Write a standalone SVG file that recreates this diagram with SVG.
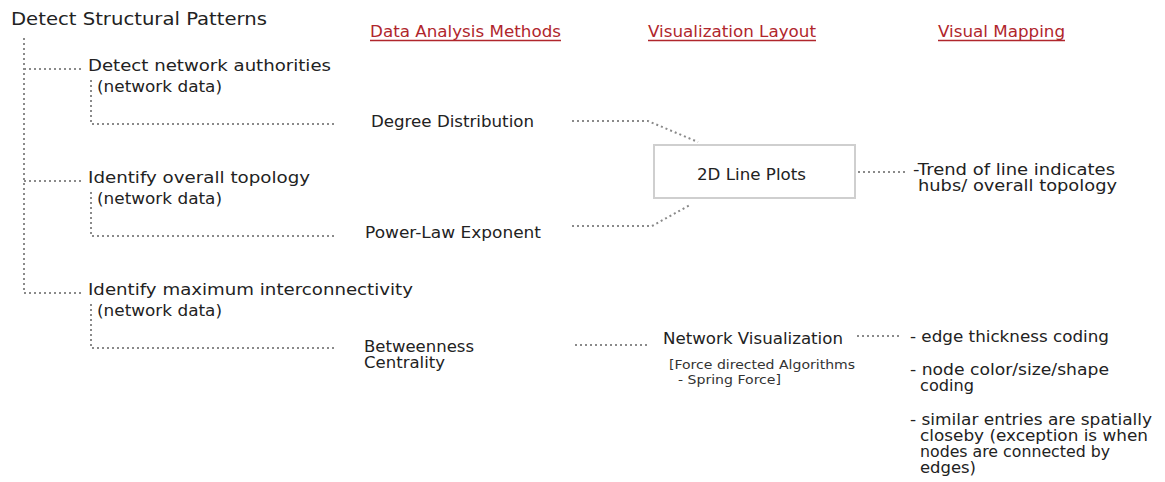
<svg xmlns="http://www.w3.org/2000/svg" width="1165" height="482" viewBox="0 0 1165 482">
  <style>
    text { font-family: "DejaVu Sans", Verdana, sans-serif; fill: #222; }
    .title { font-size: 17.5px; }
    .task { font-size: 16.5px; }
    .data { font-size: 15px; }
    .method { font-size: 15.5px; }
    .head { font-size: 15.5px; fill: #b0262c; }
    .note { font-size: 13px; fill: #333; }
    .map { font-size: 15.5px; }
    .dot { fill: none; stroke: #8a8a8a; stroke-width: 2; stroke-dasharray: 2 3; }
    .box { fill: #fff; stroke: #cfcfcf; stroke-width: 2; }
    .uline { stroke: #b0262c; stroke-width: 1.3; }
  </style>

  <!-- column headings -->
  <g id="headings">
    <text class="head" x="370" y="37" textLength="191" lengthAdjust="spacingAndGlyphs">Data Analysis Methods</text>
    <line class="uline" x1="370" y1="40.5" x2="561" y2="40.5"/>
    <text class="head" x="648" y="37" textLength="168" lengthAdjust="spacingAndGlyphs">Visualization Layout</text>
    <line class="uline" x1="648" y1="40.5" x2="816" y2="40.5"/>
    <text class="head" x="938" y="37" textLength="127" lengthAdjust="spacingAndGlyphs">Visual Mapping</text>
    <line class="uline" x1="938" y1="40.5" x2="1065" y2="40.5"/>
  </g>

  <!-- dotted connectors -->
  <g id="connectors">
    <path class="dot" d="M24 38 V293"/>
    <path class="dot" d="M24 69 H84"/>
    <path class="dot" d="M24 181 H84"/>
    <path class="dot" d="M24 293 H84"/>
    <path class="dot" d="M91 80 V124 H337"/>
    <path class="dot" d="M91 192 V236 H337"/>
    <path class="dot" d="M91 304 V348 H337"/>
    <path class="dot" d="M572 121 H648 L698 142"/>
    <path class="dot" d="M572 226 H652 L690 205"/>
    <path class="dot" d="M858 172 H906"/>
    <path class="dot" d="M575 345 H648"/>
    <path class="dot" d="M857 336 H902"/>
  </g>

  <g id="goal">
    <text class="title" x="11" y="25" textLength="256" lengthAdjust="spacingAndGlyphs">Detect Structural Patterns</text>
  </g>

  <g id="task-authorities">
    <text class="task" x="88" y="71" textLength="243" lengthAdjust="spacingAndGlyphs">Detect network authorities</text>
    <text class="data" x="97" y="92" textLength="125" lengthAdjust="spacingAndGlyphs">(network data)</text>
  </g>
  <g id="task-topology">
    <text class="task" x="88" y="183" textLength="222" lengthAdjust="spacingAndGlyphs">Identify overall topology</text>
    <text class="data" x="97" y="204" textLength="125" lengthAdjust="spacingAndGlyphs">(network data)</text>
  </g>
  <g id="task-interconnectivity">
    <text class="task" x="88" y="295" textLength="325" lengthAdjust="spacingAndGlyphs">Identify maximum interconnectivity</text>
    <text class="data" x="97" y="316" textLength="125" lengthAdjust="spacingAndGlyphs">(network data)</text>
  </g>

  <g id="method-degree">
    <text class="method" x="371" y="127" textLength="163" lengthAdjust="spacingAndGlyphs">Degree Distribution</text>
  </g>
  <g id="method-powerlaw">
    <text class="method" x="365" y="238" textLength="176" lengthAdjust="spacingAndGlyphs">Power-Law Exponent</text>
  </g>
  <g id="method-betweenness">
    <text class="method" x="364" y="352" textLength="110" lengthAdjust="spacingAndGlyphs">Betweenness</text>
    <text class="method" x="364" y="368" textLength="81" lengthAdjust="spacingAndGlyphs">Centrality</text>
  </g>

  <g id="layout-lineplots">
    <rect class="box" x="654" y="145" width="201" height="53"/>
    <text class="method" x="697" y="180" textLength="109" lengthAdjust="spacingAndGlyphs">2D Line Plots</text>
  </g>
  <g id="layout-network">
    <text class="method" x="663" y="344" textLength="180" lengthAdjust="spacingAndGlyphs">Network Visualization</text>
    <text class="note" x="669" y="369" textLength="186" lengthAdjust="spacingAndGlyphs">[Force directed Algorithms</text>
    <text class="note" x="678" y="384" textLength="103" lengthAdjust="spacingAndGlyphs">- Spring Force]</text>
  </g>

  <g id="mapping-trend">
    <text class="map" x="913" y="175" textLength="202" lengthAdjust="spacingAndGlyphs">-Trend of line indicates</text>
    <text class="map" x="918" y="191" textLength="199" lengthAdjust="spacingAndGlyphs">hubs/ overall topology</text>
  </g>
  <g id="mapping-network">
    <text class="map" x="910" y="342" textLength="199" lengthAdjust="spacingAndGlyphs">- edge thickness coding</text>
    <text class="map" x="910" y="375" textLength="199" lengthAdjust="spacingAndGlyphs">- node color/size/shape</text>
    <text class="map" x="920" y="391" textLength="54" lengthAdjust="spacingAndGlyphs">coding</text>
    <text class="map" x="910" y="425" textLength="242" lengthAdjust="spacingAndGlyphs">- similar entries are spatially</text>
    <text class="map" x="920" y="441" textLength="228" lengthAdjust="spacingAndGlyphs">closeby (exception is when</text>
    <text class="map" x="920" y="457" textLength="190" lengthAdjust="spacingAndGlyphs">nodes are connected by</text>
    <text class="map" x="920" y="473" textLength="56" lengthAdjust="spacingAndGlyphs">edges)</text>
  </g>
</svg>
